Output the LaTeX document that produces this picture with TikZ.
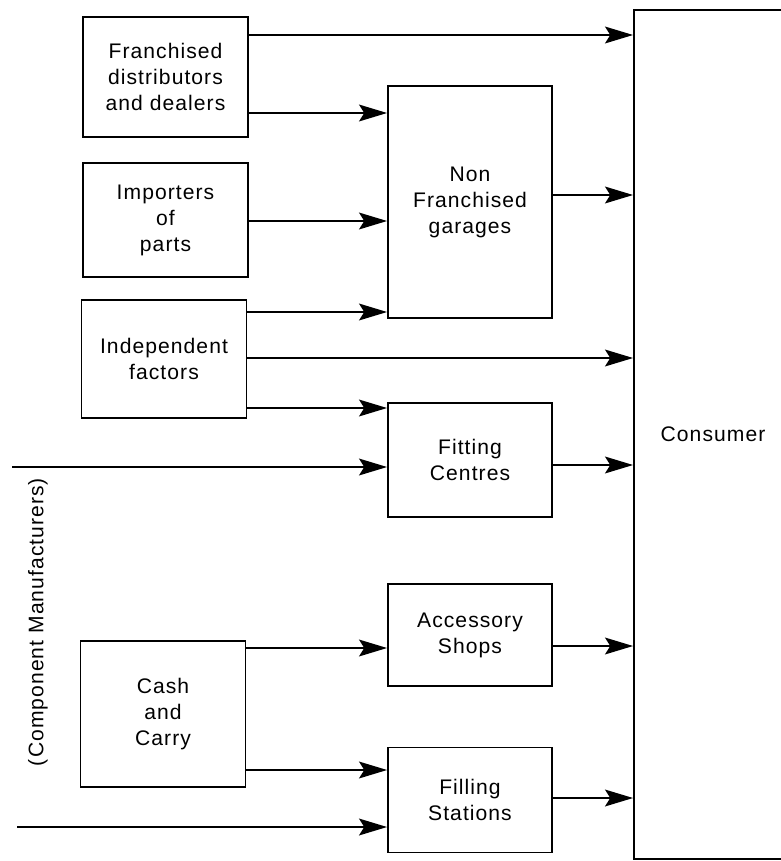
\documentclass[tikz,border=0pt]{standalone}
\usepackage{fontspec}
\setmainfont{Liberation Sans}[LetterSpace=5]
\usetikzlibrary{arrows.meta}
\begin{document}
\begin{tikzpicture}[x=0.025cm,y=-0.025cm,
  box/.style={draw,line width=1.3pt,align=center,inner sep=0pt,
    font=\fontsize{15}{18.5}\selectfont},
  arr/.style={line width=1.3pt,-{Stealth[length=7mm,width=4.2mm,inset=1.3mm]}}]

  \useasboundingbox (0,0) rectangle (781,861);

  % suppliers
  \node [box,minimum width=4.125cm,minimum height=3cm] (fr) at (165.5,77) {Franchised\\distributors\\and dealers};
  \node [box,minimum width=4.125cm,minimum height=2.85cm] (imp) at (165.5,220) {Importers\\of\\parts};
  \node [box,minimum width=4.125cm,minimum height=2.95cm] (ind) at (164,359) {Independent\\factors};
  \node [box,minimum width=4.125cm,minimum height=3.65cm] (cash) at (163,714) {Cash\\and\\Carry};
  \node [rotate=90,font=\fontsize{15}{18.5}\selectfont] (cm) at (38,622) {(Component Manufacturers)};

  % outlets
  \node [box,minimum width=4.1cm,minimum height=5.8cm] (nf) at (470,202) {Non\\Franchised\\garages};
  \node [box,minimum width=4.1cm,minimum height=2.85cm] (fit) at (470,460) {Fitting\\Centres};
  \node [box,minimum width=4.1cm,minimum height=2.55cm] (acc) at (470,635) {Accessory\\Shops};
  \node [box,minimum width=4.1cm,minimum height=2.625cm] (fil) at (470,800) {Filling\\Stations};

  \node [box,minimum width=3.95cm,minimum height=21.225cm] (cons) at (713,434.5) {Consumer};

  \coordinate (in1) at (12,467);
  \coordinate (in2) at (17,827);

  \draw [arr] (fr.east |- 0,35) -- (cons.west |- 0,35);
  \draw [arr] (fr.east |- 0,113) -- (nf.west |- 0,113);
  \draw [arr] (imp.east |- 0,221) -- (nf.west |- 0,221);
  \draw [arr] (ind.east |- 0,312) -- (nf.west |- 0,312);
  \draw [arr] (ind.east |- 0,358) -- (cons.west |- 0,358);
  \draw [arr] (ind.east |- 0,408) -- (fit.west |- 0,408);
  \draw [arr] (in1) -- (fit.west |- in1);
  \draw [arr] (cash.east |- 0,648) -- (acc.west |- 0,648);
  \draw [arr] (cash.east |- 0,770) -- (fil.west |- 0,770);
  \draw [arr] (in2) -- (fil.west |- in2);

  \draw [arr] (nf.east |- 0,195) -- (cons.west |- 0,195);
  \draw [arr] (fit.east |- 0,465) -- (cons.west |- 0,465);
  \draw [arr] (acc.east |- 0,646) -- (cons.west |- 0,646);
  \draw [arr] (fil.east |- 0,798) -- (cons.west |- 0,798);
\end{tikzpicture}
\end{document}
